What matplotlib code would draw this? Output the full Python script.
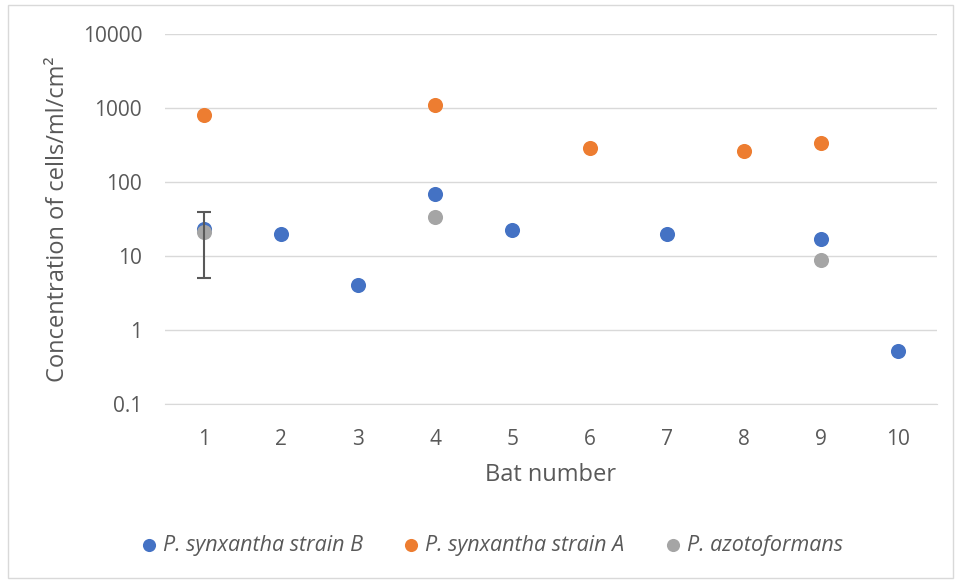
import numpy as np
import matplotlib.pyplot as plt
from matplotlib.patches import Rectangle

plt.rcParams['font.family'] = ['Open Sans', 'DejaVu Sans']

# measured counts per bat (cells/ml/cm^2)
bats_b = [1, 2, 3, 4, 5, 7, 9, 10]
strain_b = [23, 20, 4, 69, 22.5, 20, 17, 0.52]

bats_a = [1, 4, 6, 8, 9]
strain_a = [800, 1100, 285, 262, 335]

bats_az = [1, 4, 9]
azoto = [21, 33.5, 8.8]
azoto_err_low = [16, 0, 0]
azoto_err_high = [18, 0, 0]

x_ticks = list(range(1, 11))
y_ticks = [0.1, 1, 10, 100, 1000, 10000]
y_tick_labels = ['0.1', '1', '10', '100', '1000', '10000']

fig = plt.figure(figsize=(9.55, 5.8), dpi=100)
ax = fig.add_axes([0.1728, 0.3034, 0.8083, 0.638])

ms = 118
ax.scatter(bats_b, strain_b, s=ms, color='#4472C4', zorder=3,
           label='P. synxantha strain B', linewidths=0)
ax.scatter(bats_a, strain_a, s=ms, color='#ED7D31', zorder=3,
           label='P. synxantha strain A', linewidths=0)
ax.scatter(bats_az, azoto, s=ms, color='#A5A5A5', zorder=4,
           label='P. azotoformans', linewidths=0)
ax.errorbar(bats_az[:1], azoto[:1],
            yerr=[azoto_err_low[:1], azoto_err_high[:1]],
            fmt='none', ecolor='#595959', elinewidth=1.5, capsize=5,
            capthick=1.5, zorder=5)

ax.set_yscale('log')
ax.set_ylim(0.1, 10000)
ax.set_xlim(0.5, 10.5)
ax.set_xticks(x_ticks)
ax.set_yticks(y_ticks)
ax.set_yticklabels(y_tick_labels)
ax.minorticks_off()
ax.yaxis.grid(True, color='#D9D9D9', linewidth=1)
ax.set_axisbelow(True)
for s in ['left', 'right', 'top']:
    ax.spines[s].set_visible(False)
ax.spines['bottom'].set_color('#D9D9D9')
ax.tick_params(axis='both', length=0, labelsize=15, colors='#595959')
ax.tick_params(axis='x', pad=18)
ax.tick_params(axis='y', pad=16.5)

ax.set_xlabel('Bat number', fontsize=17, color='#595959', labelpad=9)
ax.set_ylabel('Concentration of cells/ml/cm²', fontsize=17, color='#595959',
              labelpad=9)

leg = fig.legend(loc='center', bbox_to_anchor=(0.515, 0.06), ncol=3,
                 frameon=False, fontsize=15.5, handlelength=0.7,
                 handletextpad=0.3, columnspacing=1.9, markerscale=0.87)
for t in leg.get_texts():
    t.set_style('italic')
    t.set_color('#595959')

fig.patches.append(Rectangle((8 / 955, 2 / 580), 945 / 955, 573 / 580,
                             transform=fig.transFigure, fill=False,
                             edgecolor='#D9D9D9', linewidth=1))

fig.savefig('out.png', dpi=100)
